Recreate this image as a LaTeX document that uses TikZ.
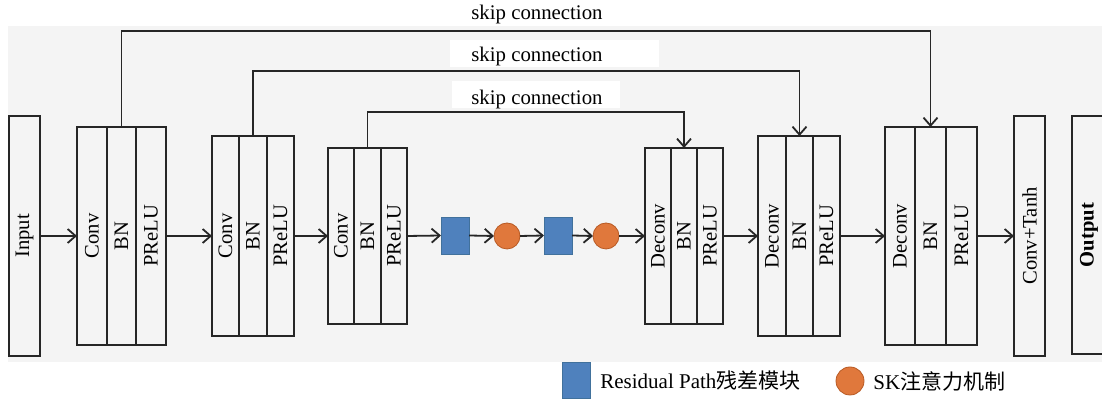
\documentclass[tikz,border=0pt]{standalone}
\usepackage{fontspec}
\setmainfont{Liberation Serif}
\newfontfamily\cjk{Noto Sans CJK SC}
\usetikzlibrary{arrows.meta}
\definecolor{bggray}{HTML}{F4F4F4}
\definecolor{resblue}{HTML}{4F81BD}
\definecolor{resedge}{HTML}{41719C}
\definecolor{skorange}{HTML}{E0783C}
\definecolor{skedge}{HTML}{B85A24}
\tikzset{
  col/.style={draw=black!85, line width=0.9pt, inner sep=0pt, outer sep=0pt, font=\fontsize{10.3}{12}\selectfont},
  arr/.style={draw=black!85, line width=0.9pt, -{Straight Barb[length=4pt,width=7pt,line width=0.9pt]}},
  res/.style={fill=resblue, draw=resedge, line width=0.4pt, minimum width=14pt, minimum height=18.5pt, inner sep=0pt, outer sep=0pt},
  skc/.style={circle, fill=skorange, draw=skedge, line width=0.4pt, minimum size=13pt, inner sep=0pt, outer sep=0pt},
  lbl/.style={font=\fontsize{10.4}{12}\selectfont, inner sep=0pt},
}
\newcommand{\vt}[1]{\rotatebox{90}{#1}}
\begin{document}
\begin{tikzpicture}[x=0.5pt,y=-0.5pt]
\useasboundingbox (0,0) rectangle (1102,399);
\fill[bggray] (8,26) rectangle (1102,362);
% white label backgrounds
\fill[white] (450,40) rectangle (659,67);
\fill[white] (452,81) rectangle (620,108);

% input
\node[col, minimum width=15.5pt, minimum height=120pt] (in) at (24.5,236) {\vt{Input}};
% block 1
\node[col, minimum width=15pt, minimum height=109pt] (b1c) at (92,236) {\vt{Conv}};
\node[col, minimum width=14.5pt, minimum height=109pt] (b1b) at (121.5,236) {\vt{BN}};
\node[col, minimum width=15pt, minimum height=109pt] (b1p) at (151,236) {\vt{PReLU}};
% block 2
\node[col, minimum width=13.5pt, minimum height=100pt] (b2c) at (225.5,236) {\vt{Conv}};
\node[col, minimum width=14pt, minimum height=100pt] (b2b) at (253,236) {\vt{BN}};
\node[col, minimum width=13.5pt, minimum height=100pt] (b2p) at (280.5,236) {\vt{PReLU}};
% block 3
\node[col, minimum width=13pt, minimum height=88pt] (b3c) at (341,236) {\vt{Conv}};
\node[col, minimum width=13.5pt, minimum height=88pt] (b3b) at (367.5,236) {\vt{BN}};
\node[col, minimum width=13pt, minimum height=88pt] (b3p) at (394,236) {\vt{PReLU}};
% middle
\node[res] (r1) at (455,235.5) {};
\node[skc] (s1) at (507,236) {};
\node[res] (r2) at (558,235.5) {};
\node[skc] (s2) at (606,236) {};
% block 4
\node[col, minimum width=13pt, minimum height=88pt] (b4c) at (658,236) {\vt{Deconv}};
\node[col, minimum width=13pt, minimum height=88pt] (b4b) at (684,236) {\vt{BN}};
\node[col, minimum width=13pt, minimum height=88pt] (b4p) at (710,236) {\vt{PReLU}};
% block 5
\node[col, minimum width=14pt, minimum height=100pt] (b5c) at (772,236) {\vt{Deconv}};
\node[col, minimum width=13.5pt, minimum height=100pt] (b5b) at (799.5,236) {\vt{BN}};
\node[col, minimum width=13.5pt, minimum height=100pt] (b5p) at (826.5,236) {\vt{PReLU}};
% block 6
\node[col, minimum width=15pt, minimum height=109pt] (b6c) at (900,236) {\vt{Deconv}};
\node[col, minimum width=15.5pt, minimum height=109pt] (b6b) at (930.5,236) {\vt{BN}};
\node[col, minimum width=15.5pt, minimum height=109pt] (b6p) at (961.5,236) {\vt{PReLU}};
% conv+tanh, output
\node[col, minimum width=15.5pt, minimum height=120pt] (ct) at (1029.5,236) {\vt{Conv+Tanh}};
\node[col, minimum width=17pt, minimum height=119pt] (out) at (1089,235) {\vt{\bfseries Output}};

% main arrows
\draw[arr] (in.east) -- (b1c.west);
\draw[arr] (b1p.east) -- (b2c.west);
\draw[arr] (b2p.east) -- (b3c.west);
\draw[arr] (b3p.east) -- (r1.west);
\draw[arr] (r1.east) -- (s1.west);
\draw[arr] (s1.east) -- (r2.west);
\draw[arr] (r2.east) -- (s2.west);
\draw[arr] (s2.east) -- (b4c.west);
\draw[arr] (b4p.east) -- (b5c.west);
\draw[arr] (b5p.east) -- (b6c.west);
\draw[arr] (b6p.east) -- (ct.west);

% skip connections
\coordinate (k1) at (930.5,31);
\coordinate (k2) at (799.5,71);
\coordinate (k3) at (684,112);
\draw[arr] (b1b.north) |- (k1) -- (b6b.north);
\draw[arr] (b2b.north) |- (k2) -- (b5b.north);
\draw[arr] (b3b.north) |- (k3) -- (b4b.north);
\node[lbl, anchor=west] (l1) at (471,15) {skip connection};
\node[lbl, anchor=west] (l2) at (471,57) {skip connection};
\node[lbl, anchor=west] (l3) at (471,99.5) {skip connection};

% legend
\node[res, minimum width=14pt, minimum height=18pt] (lr) at (576,380) {};
\node[lbl, anchor=west, font=\fontsize{10.5}{12}\selectfont] (lrt) at (600,381) {Residual Path{\cjk 残差模块}};
\node[skc, minimum size=14pt] (ls) at (850,381) {};
\node[lbl, anchor=west, font=\fontsize{10.5}{12}\selectfont] (lst) at (873,381) {SK{\cjk 注意力机制}};
\end{tikzpicture}
\end{document}
